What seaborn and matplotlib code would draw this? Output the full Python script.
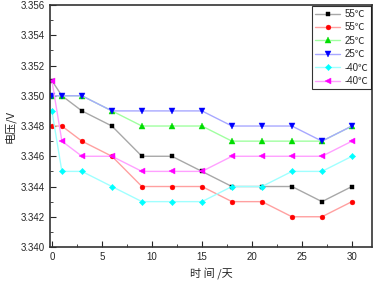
# 여러 온도 조건의 전압 변화 꺾은선 그래프
import matplotlib
matplotlib.use('Agg')
import matplotlib.pyplot as plt
import seaborn as sns
from matplotlib.ticker import MultipleLocator

days = [0, 1, 3, 6, 9, 12, 15, 18, 21, 24, 27, 30]
v_55a = [3.351, 3.350, 3.349, 3.348, 3.346, 3.346, 3.345, 3.344, 3.344, 3.344, 3.343, 3.344]
v_55b = [3.348, 3.348, 3.347, 3.346, 3.344, 3.344, 3.344, 3.343, 3.343, 3.342, 3.342, 3.343]
v_25a = [3.350, 3.350, 3.350, 3.349, 3.348, 3.348, 3.348, 3.347, 3.347, 3.347, 3.347, 3.348]
v_25b = [3.350, 3.350, 3.350, 3.349, 3.349, 3.349, 3.349, 3.348, 3.348, 3.348, 3.347, 3.348]
v_40a = [3.349, 3.345, 3.345, 3.344, 3.343, 3.343, 3.343, 3.344, 3.344, 3.345, 3.345, 3.346]
v_40b = [3.351, 3.347, 3.346, 3.346, 3.345, 3.345, 3.345, 3.346, 3.346, 3.346, 3.346, 3.347]
labels = ['55℃', '55℃', '25℃', '25℃', '-40℃', '-40℃']

sns.set_style('ticks')
plt.rcParams['font.family'] = ['Liberation Sans', 'Noto Sans CJK SC', 'DejaVu Sans']

fig = plt.figure(figsize=(3.78, 2.81), dpi=100)
ax = fig.add_axes([0.132, 0.121, 0.852, 0.861])

series = [v_55a, v_55b, v_25a, v_25b, v_40a, v_40b]
solid = ['black', 'red', '#00dd00', 'blue', 'cyan', 'magenta']
pale = ['#a8a8a8', '#ffa0a0', '#a0ffa0', '#a8a8ff', '#a0ffff', '#ffa0ff']
markers = ['s', 'o', '^', 'v', 'D', '<']
sizes = [3, 3.5, 4, 4, 3.2, 4]

# 선은 연한 색, 마커는 진한 색
for v, lab, c, p, m, ms in zip(series, labels, solid, pale, markers, sizes):
    sns.lineplot(x=days, y=v, ax=ax, color=p, marker=m, markersize=ms,
                 markerfacecolor=c, markeredgecolor=c, markeredgewidth=0.3,
                 linewidth=1, label=lab)

ax.set_xlim(-0.2, 32)
ax.set_ylim(3.340, 3.356)
ax.xaxis.set_major_locator(MultipleLocator(5))
ax.xaxis.set_minor_locator(MultipleLocator(2.5))
ax.yaxis.set_major_locator(MultipleLocator(0.002))
ax.yaxis.set_minor_locator(MultipleLocator(0.001))
ax.yaxis.set_major_formatter(plt.FormatStrFormatter('%.3f'))
ax.tick_params(which='both', direction='in', top=False, right=False, labelsize=7)
ax.tick_params(which='major', length=4)
ax.tick_params(which='minor', length=2)
for s in ax.spines.values():
    s.set_linewidth(1.2)
    s.set_color('#333333')

ax.set_xlabel('时 间 /天', fontsize=8, family=['Noto Sans CJK SC'])
ax.set_ylabel('电压/V', fontsize=8, family=['Noto Sans CJK SC'])

leg = ax.legend(loc='upper right', fontsize=7, frameon=True, fancybox=False,
                edgecolor='black', handlelength=2.6, borderpad=0.3,
                labelspacing=0.35, handletextpad=0.4, borderaxespad=0.1)
leg.get_frame().set_linewidth(0.8)

fig.savefig('out.png', dpi=100)
